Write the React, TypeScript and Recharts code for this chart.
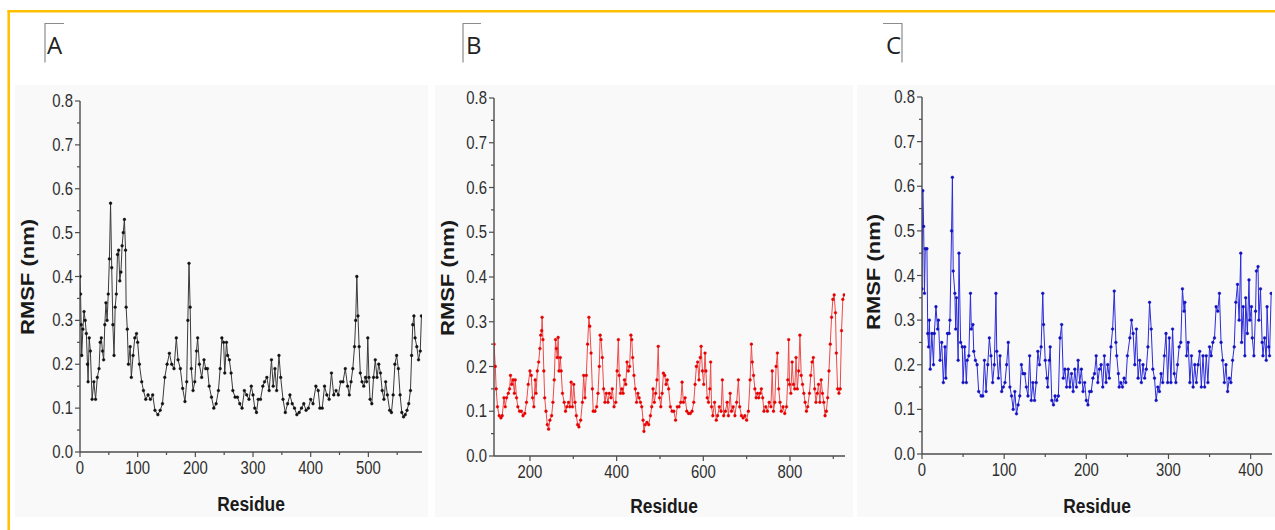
import React from 'react';
import { LineChart, Line, XAxis, YAxis } from 'recharts';

// ---------- Panel A (black) ----------
const residuesA = [0,1,2,3,5,7,9,11,13,14,16,18,21,24,27,30,33,35,37,39,41,43,45,47,49,51,53,55,57,59,61,63,65,67,69,71,73,75,77,79,80,82,84,87,89,92,95,98,100,103,107,110,114,118,122,126,130,135,139,143,147,151,155,159,163,167,170,174,178,182,185,187,189,191,193,196,199,202,204,207,211,215,218,221,224,228,232,236,240,243,246,249,251,254,256,259,262,265,269,273,277,281,285,289,293,297,300,303,306,309,313,317,320,324,328,332,335,338,341,345,348,352,356,360,364,368,372,376,380,384,388,392,396,400,404,409,413,416,420,424,428,432,436,440,444,448,452,456,460,464,467,470,473,476,478,480,482,484,486,489,492,495,497,499,501,503,506,509,512,515,518,521,524,527,530,533,537,540,543,546,549,552,555,558,561,564,567,570,573,575,577,579,581,584,587,590,592];
const rmsfA = [0.40,0.36,0.29,0.22,0.28,0.32,0.30,0.27,0.20,0.16,0.26,0.23,0.12,0.16,0.12,0.17,0.19,0.25,0.26,0.23,0.21,0.29,0.34,0.30,0.36,0.44,0.567,0.42,0.29,0.22,0.33,0.36,0.45,0.46,0.39,0.41,0.47,0.50,0.53,0.46,0.33,0.28,0.20,0.24,0.17,0.22,0.26,0.27,0.25,0.20,0.16,0.14,0.12,0.13,0.12,0.13,0.095,0.085,0.095,0.11,0.17,0.20,0.225,0.20,0.19,0.26,0.21,0.19,0.145,0.115,0.16,0.30,0.43,0.33,0.19,0.14,0.16,0.23,0.26,0.20,0.17,0.21,0.19,0.19,0.15,0.125,0.10,0.11,0.14,0.19,0.26,0.25,0.18,0.25,0.22,0.21,0.18,0.14,0.125,0.125,0.11,0.10,0.14,0.13,0.12,0.15,0.13,0.10,0.09,0.12,0.12,0.15,0.16,0.17,0.14,0.21,0.15,0.19,0.14,0.22,0.17,0.12,0.09,0.11,0.13,0.11,0.10,0.085,0.09,0.10,0.11,0.095,0.10,0.12,0.11,0.15,0.14,0.10,0.10,0.15,0.13,0.12,0.18,0.13,0.14,0.13,0.16,0.16,0.19,0.15,0.13,0.16,0.19,0.24,0.30,0.40,0.31,0.24,0.18,0.16,0.15,0.17,0.16,0.26,0.17,0.12,0.11,0.17,0.21,0.17,0.20,0.18,0.14,0.12,0.16,0.13,0.095,0.09,0.13,0.20,0.22,0.19,0.13,0.09,0.08,0.085,0.095,0.11,0.14,0.22,0.29,0.31,0.26,0.24,0.21,0.23,0.31];

// ---------- Panel B (red) ----------
const residuesB = [117,120,122,125,129,133,136,140,143,146,150,153,155,158,161,164,166,169,172,176,180,184,188,192,196,200,203,206,209,212,214,217,220,223,225,227,228,230,232,234,237,240,243,246,250,253,256,259,261,263,265,267,270,272,275,279,282,285,289,292,295,298,301,304,307,310,313,317,321,324,327,330,333,336,338,341,344,346,350,354,357,360,362,364,367,370,373,376,380,383,387,390,394,398,401,404,406,409,412,415,418,421,424,427,430,433,435,437,440,443,446,449,452,455,458,461,463,466,470,474,478,481,484,487,490,493,496,499,502,505,508,511,514,517,520,524,528,532,536,540,544,548,551,554,558,562,566,570,574,578,581,584,587,590,593,595,598,601,604,606,609,612,615,617,619,622,626,630,633,637,641,644,647,651,655,658,662,665,669,673,677,681,684,688,692,696,700,704,708,711,713,716,719,722,725,728,731,734,737,740,744,748,752,756,759,762,765,768,771,774,777,780,784,788,792,795,797,799,802,805,808,811,814,817,820,823,826,829,832,835,838,841,845,848,851,854,857,860,863,866,869,872,875,878,881,884,887,890,893,896,899,902,905,907,910,913,916,919,922,925];
const rmsfB = [0.25,0.20,0.15,0.11,0.09,0.085,0.09,0.13,0.11,0.13,0.14,0.15,0.18,0.16,0.17,0.14,0.17,0.13,0.11,0.10,0.10,0.09,0.095,0.12,0.16,0.19,0.18,0.13,0.11,0.17,0.14,0.19,0.21,0.24,0.27,0.28,0.31,0.26,0.19,0.13,0.10,0.07,0.06,0.08,0.09,0.12,0.17,0.26,0.24,0.22,0.265,0.19,0.22,0.19,0.14,0.12,0.10,0.11,0.12,0.11,0.165,0.11,0.16,0.12,0.09,0.07,0.065,0.08,0.12,0.18,0.13,0.18,0.25,0.31,0.29,0.23,0.15,0.10,0.10,0.11,0.14,0.20,0.27,0.26,0.22,0.15,0.12,0.14,0.12,0.14,0.13,0.15,0.11,0.12,0.19,0.26,0.18,0.14,0.15,0.14,0.17,0.16,0.21,0.19,0.20,0.27,0.26,0.22,0.18,0.15,0.12,0.14,0.13,0.12,0.11,0.08,0.055,0.07,0.075,0.07,0.09,0.11,0.15,0.12,0.14,0.17,0.245,0.13,0.11,0.14,0.185,0.18,0.16,0.17,0.15,0.11,0.10,0.10,0.08,0.11,0.11,0.12,0.165,0.12,0.13,0.10,0.095,0.095,0.10,0.12,0.16,0.20,0.21,0.17,0.22,0.245,0.19,0.16,0.23,0.19,0.13,0.12,0.15,0.21,0.11,0.09,0.12,0.08,0.09,0.11,0.10,0.17,0.09,0.10,0.12,0.09,0.14,0.10,0.11,0.09,0.12,0.17,0.11,0.09,0.085,0.09,0.08,0.10,0.17,0.25,0.21,0.18,0.15,0.13,0.14,0.13,0.14,0.15,0.13,0.10,0.11,0.10,0.12,0.11,0.19,0.10,0.12,0.20,0.23,0.15,0.12,0.10,0.11,0.095,0.11,0.17,0.26,0.16,0.14,0.21,0.16,0.15,0.22,0.15,0.19,0.27,0.18,0.16,0.14,0.12,0.10,0.11,0.14,0.18,0.21,0.22,0.15,0.12,0.14,0.16,0.12,0.17,0.14,0.12,0.09,0.10,0.13,0.19,0.25,0.31,0.35,0.36,0.32,0.23,0.15,0.14,0.15,0.28,0.35,0.36];

// ---------- Panel C (blue) ----------
const residuesC = [0,1,2,3,4,6,7,8,9,10,12,14,15,17,19,20,22,24,26,28,29,31,33,34,36,37,38,40,41,42,44,45,47,49,50,52,54,55,57,59,60,62,63,65,67,69,72,74,76,78,80,82,84,86,88,90,91,93,95,97,99,101,103,105,107,109,111,113,115,117,119,121,123,125,127,129,131,133,135,137,139,141,143,145,147,148,150,152,153,155,156,158,160,162,164,166,168,170,172,174,176,178,180,182,184,186,188,190,192,194,196,198,200,202,204,206,208,210,212,214,216,218,220,222,224,226,228,230,232,234,236,237,239,240,242,244,246,248,250,253,255,257,259,261,263,265,267,269,271,273,275,277,279,281,283,285,287,289,291,293,295,297,299,301,303,305,307,309,311,313,315,317,319,320,322,324,326,328,330,332,334,336,338,340,342,344,346,348,350,352,354,356,358,360,362,364,366,368,370,372,374,376,378,380,382,384,386,388,389,391,393,394,396,398,399,401,402,404,406,407,409,410,412,414,415,417,419,420,422,423,425];
const rmsfC = [0.37,0.59,0.51,0.36,0.46,0.46,0.27,0.24,0.30,0.19,0.27,0.20,0.27,0.33,0.28,0.30,0.21,0.25,0.16,0.24,0.17,0.27,0.27,0.30,0.50,0.62,0.41,0.36,0.28,0.35,0.21,0.45,0.25,0.24,0.16,0.24,0.16,0.21,0.22,0.36,0.28,0.29,0.23,0.21,0.20,0.14,0.13,0.13,0.21,0.14,0.20,0.26,0.22,0.16,0.20,0.36,0.23,0.17,0.22,0.14,0.15,0.16,0.20,0.25,0.15,0.13,0.10,0.14,0.09,0.11,0.13,0.20,0.18,0.18,0.15,0.13,0.22,0.12,0.16,0.12,0.16,0.23,0.20,0.24,0.36,0.29,0.21,0.17,0.15,0.21,0.24,0.12,0.11,0.13,0.12,0.13,0.26,0.29,0.17,0.19,0.15,0.19,0.15,0.18,0.14,0.19,0.15,0.21,0.16,0.19,0.14,0.16,0.12,0.11,0.14,0.14,0.17,0.18,0.22,0.16,0.19,0.20,0.15,0.22,0.16,0.20,0.17,0.24,0.28,0.365,0.25,0.22,0.18,0.15,0.16,0.15,0.17,0.16,0.22,0.26,0.30,0.27,0.20,0.28,0.17,0.21,0.16,0.20,0.17,0.19,0.24,0.34,0.28,0.19,0.17,0.12,0.15,0.14,0.18,0.16,0.22,0.27,0.16,0.26,0.16,0.28,0.18,0.16,0.20,0.24,0.25,0.37,0.32,0.34,0.22,0.25,0.16,0.22,0.15,0.20,0.16,0.20,0.23,0.15,0.22,0.15,0.22,0.16,0.24,0.22,0.25,0.26,0.33,0.32,0.36,0.25,0.21,0.16,0.20,0.14,0.17,0.16,0.21,0.24,0.34,0.38,0.30,0.45,0.25,0.33,0.22,0.35,0.27,0.39,0.30,0.33,0.26,0.22,0.32,0.41,0.42,0.30,0.37,0.25,0.22,0.26,0.21,0.33,0.24,0.22,0.36];

// ---------- Ticks / labels ----------
const yTicks = [0, 0.05, 0.1, 0.15, 0.2, 0.25, 0.3, 0.35, 0.4, 0.45, 0.5, 0.55, 0.6, 0.65, 0.7, 0.75, 0.8];
const xTicksA = [0, 50, 100, 150, 200, 250, 300, 350, 400, 450, 500, 550];
const xTicksB = [200, 300, 400, 500, 600, 700, 800, 900];
const xTicksC = [0, 50, 100, 150, 200, 250, 300, 350, 400];
const panelLetters = ['A', 'B', 'C'];
const xTitle = 'Residue';
const yTitle = 'RMSF (nm)';

const toRows = (xs: number[], ys: number[]) => xs.map((r, i) => ({ res: r, rmsf: ys[i] }));

const FONT = '"Liberation Sans", Arial, Helvetica, sans-serif';
const AXIS = '#4d4d4d';
const LABEL = '#2e2e2e';

const makeXTick = (majorStep: number) => (p: any) => {
  const { x, y, payload } = p;
  const v = payload.value;
  const major = v % majorStep === 0;
  return (
    <g>
      <line x1={x} x2={x} y1={y} y2={y + (major ? 5 : 3)} stroke={AXIS} strokeWidth={1.2} />
      {major && (
        <text transform={`translate(${x},${y + 22}) scale(0.85,1)`} textAnchor="middle" fontSize={17.5} fill={LABEL} fontFamily={FONT}>
          {v}
        </text>
      )}
    </g>
  );
};

const renderYTick = (p: any) => {
  const { x, y, payload } = p;
  const v = payload.value;
  const major = Math.abs(v * 10 - Math.round(v * 10)) < 1e-6;
  return (
    <g>
      <line x1={x} x2={x - (major ? 5 : 3)} y1={y} y2={y} stroke={AXIS} strokeWidth={1.2} />
      {major && (
        <text transform={`translate(${x - 7},${y + 6}) scale(0.85,1)`} textAnchor="end" fontSize={17.5} fill={LABEL} fontFamily={FONT}>
          {v.toFixed(1)}
        </text>
      )}
    </g>
  );
};

type PanelProps = {
  data: { res: number; rmsf: number }[];
  domain: [number, number];
  ticks: number[];
  majorStep: number;
  lineColor: string;
  dotColor: string;
  box: { left: number; top: number; width: number; height: number };
  plot: { left: number; top: number; right: number; bottom: number };
};

function Panel({ data, domain, ticks, majorStep, lineColor, dotColor, box, plot }: PanelProps) {
  const yAxisW = plot.left - box.left;
  const mTop = plot.top - box.top;
  const mRight = box.left + box.width - plot.right;
  const xAxisH = box.top + box.height - plot.bottom;
  return (
    <div style={{ position: 'absolute', left: box.left, top: box.top, width: box.width, height: box.height, background: '#f9f9f9' }}>
      <LineChart width={box.width} height={box.height} data={data} margin={{ top: mTop, right: mRight, left: 0, bottom: 0 }}>
        <XAxis
          xAxisId="b"
          dataKey="res"
          type="number"
          domain={domain}
          allowDataOverflow
          ticks={ticks}
          interval={0}
          height={xAxisH}
          tickSize={0}
          tickMargin={0}
          tickLine={false}
          axisLine={{ stroke: AXIS, strokeWidth: 1.4 }}
          tick={makeXTick(majorStep)}
        />
        <XAxis
          xAxisId="t"
          orientation="top"
          dataKey="res"
          type="number"
          domain={domain}
          allowDataOverflow
          height={0}
          tick={false}
          tickLine={false}
          axisLine={{ stroke: AXIS, strokeWidth: 1.4 }}
        />
        <YAxis
          yAxisId="l"
          type="number"
          domain={[0, 0.8]}
          allowDataOverflow
          ticks={yTicks}
          interval={0}
          width={yAxisW}
          tickSize={0}
          tickMargin={0}
          tickLine={false}
          axisLine={{ stroke: AXIS, strokeWidth: 1.4 }}
          tick={renderYTick}
        />
        <YAxis
          yAxisId="r"
          orientation="right"
          type="number"
          domain={[0, 0.8]}
          width={0}
          tick={false}
          tickLine={false}
          axisLine={{ stroke: AXIS, strokeWidth: 1.4 }}
        />
        <Line
          xAxisId="b"
          yAxisId="l"
          type="linear"
          dataKey="rmsf"
          stroke={lineColor}
          strokeWidth={1}
          dot={{ r: 1.4, fill: dotColor, stroke: dotColor, strokeWidth: 0.4 }}
          activeDot={false}
          isAnimationActive={false}
        />
      </LineChart>
    </div>
  );
}

export default function App() {
  const dataA = toRows(residuesA, rmsfA);
  const dataB = toRows(residuesB, rmsfB);
  const dataC = toRows(residuesC, rmsfC);

  const titleStyle = { fontFamily: FONT, fontWeight: 700, fill: '#1a1a1a' } as const;

  return (
    <div style={{ position: 'absolute', left: 0, top: 0, width: 1275, height: 530, background: '#ffffff', overflow: 'hidden' }}>
      <Panel
        data={dataA}
        domain={[0, 593]}
        ticks={xTicksA}
        majorStep={100}
        lineColor="#3a3a3a"
        dotColor="#111111"
        box={{ left: 15, top: 85, width: 413, height: 432 }}
        plot={{ left: 80, top: 101, right: 422, bottom: 452 }}
      />
      <Panel
        data={dataB}
        domain={[117, 927]}
        ticks={xTicksB}
        majorStep={200}
        lineColor="#ee4a4a"
        dotColor="#e60000"
        box={{ left: 435, top: 85, width: 418, height: 432 }}
        plot={{ left: 494, top: 98, right: 845, bottom: 456 }}
      />
      <Panel
        data={dataC}
        domain={[0, 426]}
        ticks={xTicksC}
        majorStep={100}
        lineColor="#2b2bd9"
        dotColor="#1212c0"
        box={{ left: 857, top: 85, width: 418, height: 432 }}
        plot={{ left: 922, top: 97, right: 1272, bottom: 454 }}
      />
      <svg width={1275} height={530} style={{ position: 'absolute', left: 0, top: 0, pointerEvents: 'none' }}>
        {/* orange frame */}
        <line x1={8.7} x2={8.7} y1={10} y2={530} stroke="#ffc000" strokeWidth={2.5} />
        <line x1={7.5} x2={1275} y1={11.3} y2={11.3} stroke="#ffc000" strokeWidth={2.5} />

        {/* panel letter brackets */}
        <polyline points="64,23.5 45,23.5 45,62.5" fill="none" stroke="#8c8c8c" strokeWidth={1.2} />
        <polyline points="481,23.5 463,23.5 463,62.5" fill="none" stroke="#8c8c8c" strokeWidth={1.2} />
        <polyline points="883,23.5 902,23.5 902,62.5" fill="none" stroke="#8c8c8c" strokeWidth={1.2} />
        <text x={47} y={54} fontSize={24} fontFamily='"Open Sans", sans-serif' fill="#222">{panelLetters[0]}</text>
        <text x={466} y={54} fontSize={24} fontFamily='"Open Sans", sans-serif' fill="#222">{panelLetters[1]}</text>
        <text x={886} y={54} fontSize={24} fontFamily='"Open Sans", sans-serif' fill="#222">{panelLetters[2]}</text>

        {/* axis titles */}
        <text transform="translate(251,511) scale(0.83,1)" textAnchor="middle" fontSize={21} style={titleStyle}>{xTitle}</text>
        <text transform="translate(664,513) scale(0.83,1)" textAnchor="middle" fontSize={21} style={titleStyle}>{xTitle}</text>
        <text transform="translate(1097,513) scale(0.83,1)" textAnchor="middle" fontSize={21} style={titleStyle}>{xTitle}</text>
        <text transform="translate(34,277) rotate(-90) scale(1,0.83)" textAnchor="middle" fontSize={22} style={titleStyle}>{yTitle}</text>
        <text transform="translate(454,278) rotate(-90) scale(1,0.83)" textAnchor="middle" fontSize={22} style={titleStyle}>{yTitle}</text>
        <text transform="translate(880,272) rotate(-90) scale(1,0.83)" textAnchor="middle" fontSize={22} style={titleStyle}>{yTitle}</text>
      </svg>
    </div>
  );
}
